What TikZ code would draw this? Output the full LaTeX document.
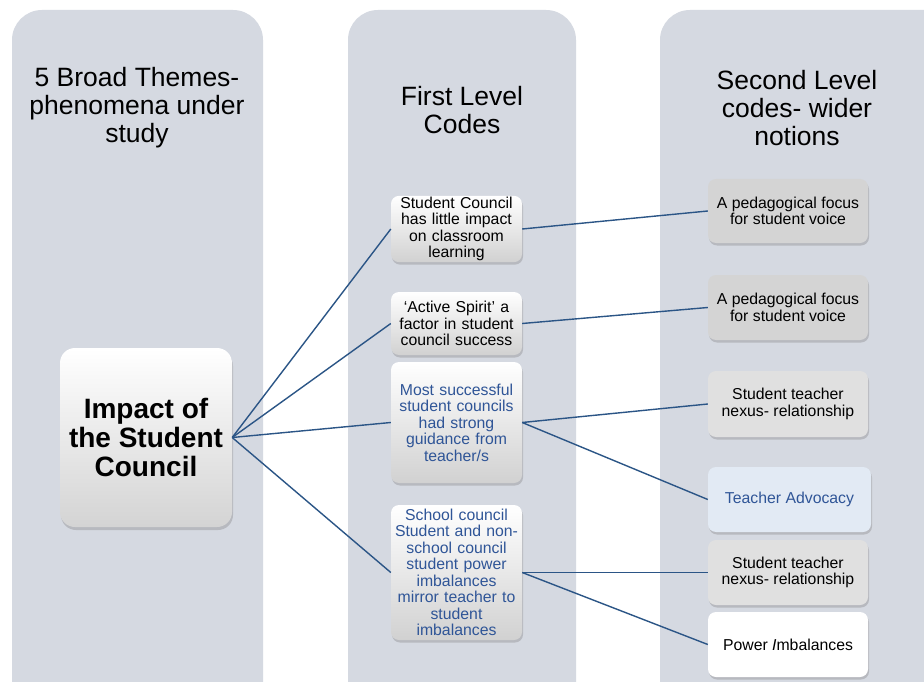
\documentclass[tikz,border=0pt]{standalone}
\usepackage{fontspec}
\setmainfont{Liberation Sans}
\usetikzlibrary{shadows}
\definecolor{colbg}{HTML}{D5D9E1}
\definecolor{linec}{HTML}{2B5586}
\definecolor{bluetext}{HTML}{2F5597}
\definecolor{advfill}{HTML}{E2EAF4}
\definecolor{grayA}{HTML}{D4D4D4}
\definecolor{grayB}{HTML}{E0E0E0}
\begin{document}
\begin{tikzpicture}[x=1pt,y=-1pt,
  colbox/.style={fill=colbg, rounded corners=30pt},
  header/.style={font=\fontsize{26.5}{28}\selectfont, align=center, text=black},
  firstbox/.style={rounded corners=8pt, top color=white, bottom color=black!18, minimum width=131pt, align=center, inner sep=1pt, text width=129pt, font=\fontsize{15.8}{16.5}\selectfont, drop shadow={opacity=0.35, shadow xshift=1pt, shadow yshift=-2.5pt}},
  secbox/.style={rounded corners=8pt, fill=grayA, minimum width=160pt, minimum height=65pt, align=center, font=\fontsize{15.8}{16.5}\selectfont, drop shadow={opacity=0.35, shadow xshift=1pt, shadow yshift=-2.5pt}},
  conn/.style={draw=linec, line width=1.4pt}
]
\useasboundingbox (0,0) rectangle (924,682);
\fill[white] (0,0) rectangle (924,682);
\begin{scope}
\clip (0,0) rectangle (924,682);
\fill[colbox] (12,10) rectangle (263,720);
\fill[colbox] (348,10) rectangle (576,720);
\fill[colbox] (660,10) rectangle (960,720);
\end{scope}

\node[header] (h1) at (137,108) {5 Broad Themes-\\phenomena under\\study};
\node[header] (h2) at (462,110) {First Level\\Codes};
\node[header] (h3) at (797,108) {Second Level\\codes- wider\\notions};

\node[rounded corners=15pt, top color=white, bottom color=black!17, minimum width=172pt, minimum height=179pt, align=center, font=\fontsize{28}{29}\selectfont\bfseries, drop shadow={opacity=0.35, shadow xshift=1pt, shadow yshift=-3pt}] (main) at (146,437.5) {Impact of\\the Student\\Council};

\node[firstbox, minimum height=66pt] (f1) at (456.5,229) {Student Council\\has little impact\\on classroom\\learning};
\node[firstbox, minimum height=63pt] (f2) at (456.5,323.5) {`Active Spirit' a\\factor in student\\council success};
\node[firstbox, minimum height=121pt, text=bluetext] (f3) at (456.5,422.5) {Most successful\\student councils\\had strong\\guidance from\\teacher/s};
\node[firstbox, minimum height=135pt, text=bluetext] (f4) at (456.5,572.5) {School council\\Student and non-\\school council\\student power\\imbalances\\mirror teacher to\\student\\imbalances};

\node[secbox, minimum height=64pt] (s1) at (788,211) {A pedagogical focus\\for student voice};
\node[secbox] (s2) at (788,307.5) {A pedagogical focus\\for student voice};
\node[secbox, fill=grayB, minimum height=66pt] (s3) at (788,404) {Student teacher\\nexus- relationship};
\node[secbox, fill=advfill, text=bluetext, minimum width=163pt] (s4) at (789.5,499.5) {Teacher Advocacy};
\node[secbox, fill=grayB] (s5) at (788,572.5) {Student teacher\\nexus- relationship};
\node[secbox, fill=white] (s6) at (788,644.5) {Power \textit{I}mbalances};

\draw[conn] (main.east) -- (f1.west);
\draw[conn] (main.east) -- (f2.west);
\draw[conn] (main.east) -- (f3.west);
\draw[conn] (main.east) -- (f4.west);
\draw[conn] (f1.east) -- (s1.west);
\draw[conn] (f2.east) -- (s2.west);
\draw[conn] (f3.east) -- (s3.west);
\draw[conn] (f3.east) -- (s4.west);
\draw[conn] (f4.east) -- (s5.west);
\draw[conn] (f4.east) -- (s6.west);
\end{tikzpicture}
\end{document}
